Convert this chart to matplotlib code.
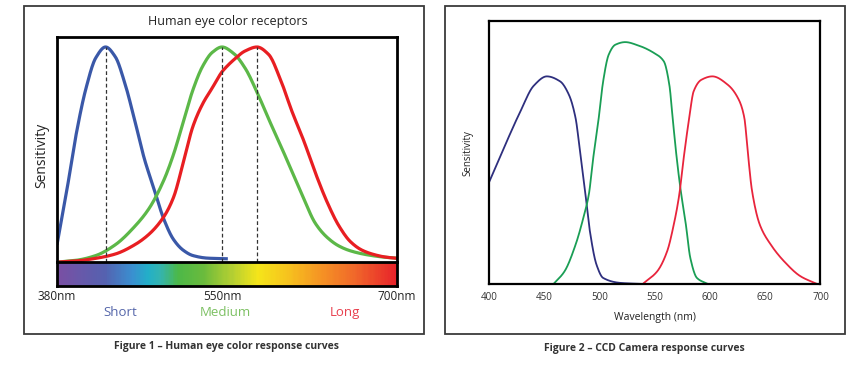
import numpy as np
import matplotlib
matplotlib.use("Agg")
import matplotlib.pyplot as plt
from matplotlib.patches import Rectangle
from matplotlib.colors import LinearSegmentedColormap

plt.rcParams['font.family'] = ['Open Sans', 'DejaVu Sans']

# ---- Figure 1: human eye cones (normalised sensitivity) ----
short_nm = [380, 390, 400, 410, 420, 430, 440, 450, 460, 470, 480, 490, 500, 510, 520, 535, 555]
short_s = [0.08, 0.33, 0.6, 0.81, 0.95, 1.0, 0.955, 0.83, 0.66, 0.48, 0.34, 0.2, 0.105, 0.055, 0.03, 0.018, 0.015]

medium_nm = [382, 400, 420, 440, 460, 475, 490, 500, 510, 520, 530, 540, 550,
             560, 570, 580, 590, 600, 610, 620, 630, 640, 650, 660, 675, 690, 700]
medium_s = [0.0, 0.008, 0.03, 0.08, 0.165, 0.25, 0.38, 0.5, 0.65, 0.8, 0.91, 0.975, 1.0,
            0.97, 0.9, 0.79, 0.665, 0.545, 0.42, 0.295, 0.18, 0.115, 0.075, 0.052, 0.033, 0.022, 0.018]

long_nm = [382, 400, 420, 440, 460, 475, 490, 500, 510, 520, 530, 540, 550, 560, 570, 580,
           590, 600, 610, 620, 630, 640, 650, 660, 670, 680, 690, 700]
long_s = [0.0, 0.005, 0.017, 0.037, 0.08, 0.13, 0.21, 0.3, 0.46, 0.63, 0.735, 0.81, 0.885, 0.94, 0.982, 1.0,
          0.965, 0.85, 0.7, 0.565, 0.415, 0.28, 0.17, 0.095, 0.055, 0.035, 0.023, 0.017]

peak_nm = [430, 550, 580]
tick_nm = [380, 550, 700]
tick_labels = ['380nm', '550nm', '700nm']
cone_names = ['Short', 'Medium', 'Long']
cone_label_nm = [445, 553, 655]

# visible spectrum colour stops
spec_nm = [380, 430, 457, 474, 486, 505, 532, 559, 581, 607, 636, 664, 700]
spec_col = ['#7a4fa3', '#5462b0', '#3a8fd0', '#22afc8', '#34b4b0', '#4cb848', '#6cbb3c',
            '#b4cf32', '#f5e51a', '#f6c21e', '#f59224', '#f0682a', '#e8222a']

# ---- Figure 2: CCD camera ----
ccd_blue_nm = [400, 413, 428, 440, 452, 464, 472, 478, 482, 487, 491, 497, 503, 519, 540]
ccd_blue_s = [0.39, 0.516, 0.655, 0.752, 0.788, 0.769, 0.718, 0.63, 0.504, 0.339, 0.2, 0.073, 0.023, 0.004, 0.0]

ccd_green_nm = [458, 468, 478, 485, 490, 494, 499, 503, 508, 514, 523, 535, 549, 558, 563, 566,
                569, 573, 578, 582, 588, 598]
ccd_green_s = [0.0, 0.048, 0.149, 0.25, 0.339, 0.478, 0.63, 0.769, 0.87, 0.908, 0.918, 0.905, 0.877,
               0.845, 0.756, 0.63, 0.504, 0.364, 0.225, 0.099, 0.023, 0.0]

ccd_red_nm = [540, 552, 561, 567, 572, 576, 581, 585, 592, 602, 616, 626, 631, 634, 638, 645,
              655, 667, 682, 697]
ccd_red_s = [0.004, 0.048, 0.124, 0.225, 0.339, 0.478, 0.63, 0.731, 0.775, 0.788, 0.756, 0.699,
             0.63, 0.504, 0.352, 0.225, 0.149, 0.086, 0.029, 0.0]
ccd_ticks = [400, 450, 500, 550, 600, 650, 700]


def smooth(x, y, n=400):
    # monotone cubic (pchip style) through the read-off points
    x = np.asarray(x, float)
    y = np.asarray(y, float)
    h = np.diff(x)
    d = np.diff(y) / h
    m = np.zeros_like(y)
    m[0], m[-1] = d[0], d[-1]
    for k in range(1, len(x) - 1):
        if d[k - 1] * d[k] > 0:
            w1 = 2 * h[k] + h[k - 1]
            w2 = h[k] + 2 * h[k - 1]
            m[k] = (w1 + w2) / (w1 / d[k - 1] + w2 / d[k])
    xs = np.linspace(x[0], x[-1], n)
    i = np.clip(np.searchsorted(x, xs) - 1, 0, len(x) - 2)
    t = (xs - x[i]) / h[i]
    h00 = 2 * t ** 3 - 3 * t ** 2 + 1
    h10 = t ** 3 - 2 * t ** 2 + t
    h01 = -2 * t ** 3 + 3 * t ** 2
    h11 = t ** 3 - t ** 2
    ys = h00 * y[i] + h10 * h[i] * m[i] + h01 * y[i + 1] + h11 * h[i] * m[i + 1]
    return xs, ys


# the eye chart axis is not linear: 550nm sits left of centre
warp_nm = [380, 550, 700]
warp_px = [0, 165, 340]
fwd = lambda v: np.interp(v, warp_nm, warp_px)
inv = lambda v: np.interp(v, warp_px, warp_nm)

fig = plt.figure(figsize=(8.6, 3.65), dpi=100)
W, H = 860, 365


def box(x0, y0, x1, y1):
    return [x0 / W, 1 - y1 / H, (x1 - x0) / W, (y1 - y0) / H]


# outer frames
for x0 in (24, 445):
    fig.patches.append(Rectangle((x0 / W, 1 - 334 / H), 400 / W, 328 / H, transform=fig.transFigure,
                                 fill=False, edgecolor='#3a3a3a', linewidth=1.3))

# ---- left panel ----
ax1 = fig.add_axes(box(57, 37, 397, 262))
ax1.set_xscale('function', functions=(fwd, inv))
for nm, s, c in [(short_nm, short_s, '#3a58a8'), (medium_nm, medium_s, '#5cb848'),
                 (long_nm, long_s, '#e81e22')]:
    xs, ys = smooth(nm, s)
    ax1.plot(xs, ys, color=c, linewidth=2.3, solid_capstyle='butt')
ax1.vlines(peak_nm, 0, [1.0, 1.0, 1.0], colors='#333333', linestyles=(0, (3, 2)), linewidth=0.9)
ax1.set_xlim(380, 700)
ax1.set_ylim(0, 1.0465)
ax1.set_xticks([])
ax1.set_yticks([])
for sp in ax1.spines.values():
    sp.set_linewidth(2.0)
ax1.spines['bottom'].set_visible(False)

ax_sp = fig.add_axes(box(57, 262, 397, 286))
ax_sp.set_xscale('function', functions=(fwd, inv))
cmap = LinearSegmentedColormap.from_list('spec', list(zip((np.array(spec_nm) - 380) / 320, spec_col)))
edges = np.linspace(380, 700, 321)
ax_sp.pcolormesh(edges, [0, 1], ((edges[:-1] + edges[1:]) / 2)[None, :], cmap=cmap, vmin=380, vmax=700)
ax_sp.set_xlim(380, 700)
ax_sp.set_ylim(0, 1)
ax_sp.set_yticks([])
ax_sp.set_xticks(tick_nm)
ax_sp.set_xticklabels(tick_labels, fontsize=8.5, color='#222222')
ax_sp.tick_params(axis='x', length=0, pad=3)
for sp in ax_sp.spines.values():
    sp.set_linewidth(2.0)

for name, nm, c in zip(cone_names, cone_label_nm, ['#5566aa', '#7cc062', '#e8404e']):
    ax_sp.text(nm, -1.1, name, color=c, fontsize=9.5, ha='center', va='center',
               transform=ax_sp.get_xaxis_transform())

fig.text(228 / W, 1 - 22 / H, 'Human eye color receptors', ha='center', va='center', fontsize=9, color='#222222')
fig.text(42 / W, 1 - 155 / H, 'Sensitivity', rotation=90, ha='center', va='center', fontsize=10, color='#222222')
fig.text(226 / W, 1 - 347 / H, 'Figure 1 \u2013 Human eye color response curves', ha='center', va='center',
         fontsize=7.5, fontweight='bold', color='#333333')

# ---- right panel ----
ax2 = fig.add_axes(box(489.5, 20.5, 820.5, 284))
for nm, s, c in [(ccd_blue_nm, ccd_blue_s, '#2e2f7e'), (ccd_green_nm, ccd_green_s, '#1a9e55'),
                 (ccd_red_nm, ccd_red_s, '#e8243c')]:
    xs, ys = smooth(nm, s)
    ax2.plot(xs, ys, color=c, linewidth=1.3)
ax2.set_xlim(400, 700)
ax2.set_ylim(0, 1)
ax2.set_yticks([])
ax2.set_xticks(ccd_ticks)
ax2.tick_params(axis='x', length=0, pad=6, labelsize=7, labelcolor='#333333')
for sp in ax2.spines.values():
    sp.set_linewidth(1.6)
ax2.set_xlabel('Wavelength (nm)', fontsize=7.5, color='#222222', labelpad=6)
fig.text(468 / W, 1 - 153 / H, 'Sensitivity', rotation=90, ha='center', va='center', fontsize=7, color='#222222')
fig.text(644 / W, 1 - 348 / H, 'Figure 2 \u2013 CCD Camera response curves', ha='center', va='center',
         fontsize=7.5, fontweight='bold', color='#333333')

fig.savefig('out.png', dpi=100)
